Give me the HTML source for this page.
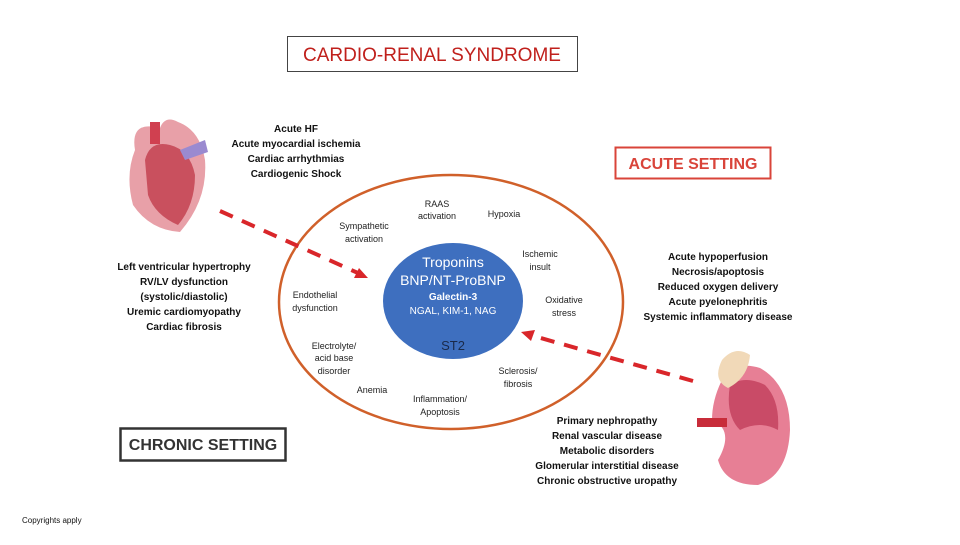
<!DOCTYPE html><html><head><style>
body{margin:0;width:960px;height:540px;background:#fff;overflow:hidden;font-family:"Liberation Sans",sans-serif}
</style></head><body>
<svg width="960" height="540" xmlns="http://www.w3.org/2000/svg" font-family="Liberation Sans, sans-serif">
<rect x="287.5" y="36.5" width="290" height="35" fill="none" stroke="#444" stroke-width="1"/>
<text x="432" y="61" text-anchor="middle" font-size="19" fill="#c0201c">CARDIO-RENAL SYNDROME</text>
<rect x="615.5" y="147.5" width="155" height="31" fill="none" stroke="#d9443a" stroke-width="2"/>
<text x="693" y="169" text-anchor="middle" font-size="16" font-weight="bold" fill="#d9443a">ACUTE SETTING</text>
<rect x="120.5" y="428.5" width="165" height="32" fill="none" stroke="#333" stroke-width="2.5"/>
<text x="203" y="450" text-anchor="middle" font-size="16" font-weight="bold" fill="#333">CHRONIC SETTING</text>
<ellipse cx="451" cy="302" rx="172" ry="127" fill="none" stroke="#d0602a" stroke-width="2.5"/>
<ellipse cx="453" cy="301" rx="70" ry="58" fill="#3e6fbf"/>
<g text-anchor="middle" fill="#fff">
<text x="453" y="267" font-size="14">Troponins</text>
<text x="453" y="285" font-size="14">BNP/NT-ProBNP</text>
<text x="453" y="300" font-size="10" font-weight="bold">Galectin-3</text>
<text x="453" y="314" font-size="10">NGAL, KIM-1, NAG</text>
<text x="453" y="350" font-size="13" fill="#1a2a4a">ST2</text>
</g>
<g text-anchor="middle" font-size="9" fill="#222">
<text x="437" y="207">RAAS</text><text x="437" y="219">activation</text>
<text x="504" y="217">Hypoxia</text>
<text x="364" y="229">Sympathetic</text><text x="364" y="242">activation</text>
<text x="540" y="257">Ischemic</text><text x="540" y="270">insult</text>
<text x="315" y="298">Endothelial</text><text x="315" y="311">dysfunction</text>
<text x="564" y="303">Oxidative</text><text x="564" y="316">stress</text>
<text x="334" y="349">Electrolyte/</text><text x="334" y="361">acid base</text><text x="334" y="374">disorder</text>
<text x="518" y="374">Sclerosis/</text><text x="518" y="387">fibrosis</text>
<text x="372" y="393">Anemia</text>
<text x="440" y="402">Inflammation/</text><text x="440" y="415">Apoptosis</text>
</g>
<g text-anchor="middle" font-size="10" font-weight="bold" fill="#111">
<text x="296" y="132">Acute HF</text><text x="296" y="147">Acute myocardial ischemia</text><text x="296" y="162">Cardiac arrhythmias</text><text x="296" y="177">Cardiogenic Shock</text>
<text x="184" y="270">Left ventricular hypertrophy</text><text x="184" y="285">RV/LV dysfunction</text><text x="184" y="300">(systolic/diastolic)</text><text x="184" y="315">Uremic cardiomyopathy</text><text x="184" y="330">Cardiac fibrosis</text>
<text x="718" y="260">Acute hypoperfusion</text><text x="718" y="275">Necrosis/apoptosis</text><text x="718" y="290">Reduced oxygen delivery</text><text x="718" y="305">Acute pyelonephritis</text><text x="718" y="320">Systemic inflammatory disease</text>
<text x="607" y="424">Primary nephropathy</text><text x="607" y="439">Renal vascular disease</text><text x="607" y="454">Metabolic disorders</text><text x="607" y="469">Glomerular interstitial disease</text><text x="607" y="484">Chronic obstructive uropathy</text>
</g>
<line x1="220" y1="211" x2="358" y2="273" stroke="#d9262a" stroke-width="4" stroke-dasharray="14,10"/>
<polygon points="368,278 354,278 359,268" fill="#d9262a"/>
<line x1="693" y1="381" x2="530" y2="335" stroke="#d9262a" stroke-width="4" stroke-dasharray="14,10"/>
<polygon points="521,332 535,330 531,341" fill="#d9262a"/>
<!-- heart -->
<g>
<path d="M135 150 Q130 120 160 128 Q165 115 178 122 Q200 130 205 160 Q208 200 180 232 Q150 230 133 205 Q125 175 135 150Z" fill="#e8a0a8"/>
<path d="M145 160 Q150 140 170 145 Q190 150 195 175 Q195 205 178 225 Q155 215 148 195Z" fill="#c9505e"/>
<rect x="150" y="122" width="10" height="22" fill="#d04050"/>
<path d="M180 150 L205 140 L208 152 L185 160Z" fill="#9a8ad0"/>
</g>
<!-- kidney -->
<g>
<path d="M722 380 Q735 360 760 368 Q790 385 790 430 Q788 475 758 485 Q725 485 718 460 Q735 430 712 420 Q712 400 722 380Z" fill="#e77f95"/>
<path d="M730 385 Q745 375 765 385 Q780 400 778 430 Q760 420 740 430 Q725 415 730 385Z" fill="#c94b67"/>
<path d="M722 360 Q735 345 750 355 Q748 378 728 388 Q712 380 722 360Z" fill="#f1d9b8"/>
<rect x="697" y="418" width="30" height="9" fill="#c82c3a"/>
</g>
<text x="22" y="523" font-size="8" fill="#111">Copyrights apply</text>
</svg>
</body></html>
